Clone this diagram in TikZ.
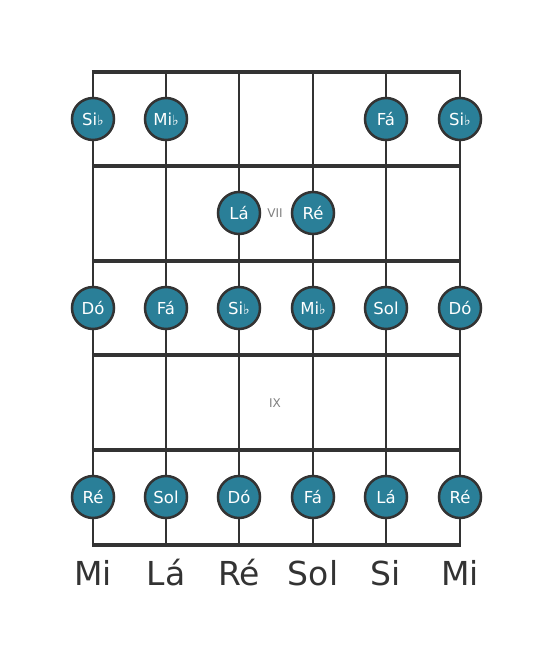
\documentclass[tikz,border=0pt]{standalone}
\usepackage{fontspec}
\setmainfont{DejaVu Sans}
\usepackage{xcolor}
\definecolor{notefill}{RGB}{42,127,152}
\definecolor{wire}{RGB}{51,51,51}
\newcommand{\flt}{{\fontsize{14}{14}\selectfont ♭}}

\begin{document}
\begin{tikzpicture}[x=1pt, y=-1pt,
  note/.style={circle, draw=wire, line width=2.5pt, fill=notefill, minimum size=42pt, inner sep=0pt, text=white, font=\fontsize{16.5}{19}\selectfont},
  fretlbl/.style={text=gray, font=\fontsize{12}{14}\selectfont},
  tuning/.style={text=wire, font=\fontsize{33}{38}\selectfont}]
\useasboundingbox (0,0) rectangle (553,656);
% strings
\foreach \x in {93,166,239,313,386,460}
  \draw[wire, line width=2.5pt] (\x,72) -- (\x,545);
% frets
\foreach \y in {72,166,261,355,450,545}
  \draw[wire, line width=4pt] (91.75,\y) -- (461.25,\y);
% fret 6
\node[note] (s1f6) at (93,119) {Si\flt};
\node[note] (s2f6) at (166,119) {Mi\flt};
\node[note] (s5f6) at (386,119) {Fá};
\node[note] (s6f6) at (460,119) {Si\flt};
% fret 7
\node[note] (s3f7) at (239,213) {Lá};
\node[note] (s4f7) at (313,213) {Ré};
\node[fretlbl] (vii) at (275,213) {VII};
% fret 8
\node[note] (s1f8) at (93,308) {Dó};
\node[note] (s2f8) at (166,308) {Fá};
\node[note] (s3f8) at (239,308) {Si\flt};
\node[note] (s4f8) at (313,308) {Mi\flt};
\node[note] (s5f8) at (386,308) {Sol};
\node[note] (s6f8) at (460,308) {Dó};
% fret 9
\node[fretlbl] (ix) at (275,403) {IX};
% fret 10
\node[note] (s1f10) at (93,497) {Ré};
\node[note] (s2f10) at (166,497) {Sol};
\node[note] (s3f10) at (239,497) {Dó};
\node[note] (s4f10) at (313,497) {Fá};
\node[note] (s5f10) at (386,497) {Lá};
\node[note] (s6f10) at (460,497) {Ré};
% open strings
\node[tuning] (t1) at (93,573) {Mi};
\node[tuning] (t2) at (166,573) {Lá};
\node[tuning] (t3) at (239,573) {Ré};
\node[tuning] (t4) at (313,573) {Sol};
\node[tuning] (t5) at (386,573) {Si};
\node[tuning] (t6) at (460,573) {Mi};
\end{tikzpicture}
\end{document}
